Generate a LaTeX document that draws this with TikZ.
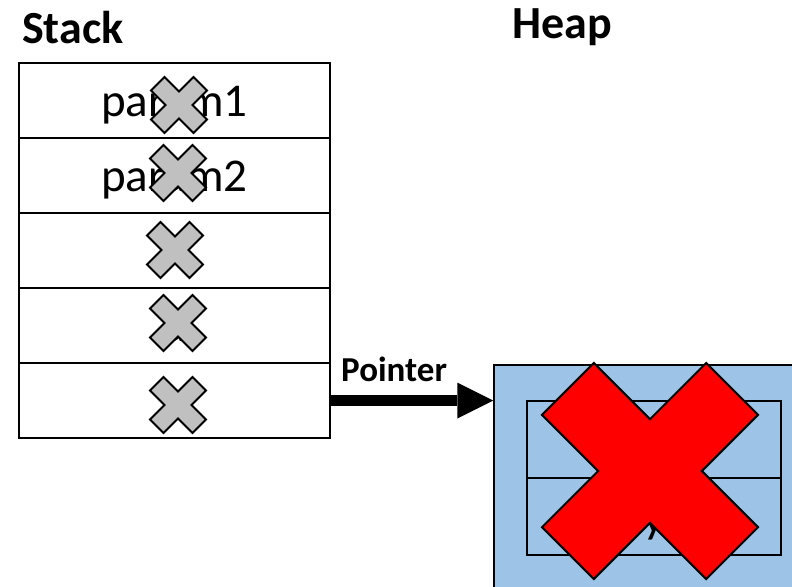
\documentclass[tikz,border=0pt]{standalone}
\usepackage{fontspec}
\setmainfont{Carlito}
\usetikzlibrary{arrows.meta}
\definecolor{crossgray}{HTML}{C0C0C0}
\definecolor{heapblue}{HTML}{9DC3E6}
\definecolor{xred}{HTML}{FF0000}
\newcommand{\crossmark}[5]{% center x, center y, half size, fill, line width
  \pgfmathsetmacro{\cmn}{0.48*#3}%
  \pgfmathsetmacro{\cmc}{#3-\cmn}%
  \draw[line width=#5, fill=#4, line join=miter]
    (#1,#2-\cmn) -- (#1+\cmc,#2-#3) -- (#1+#3,#2-\cmc) -- (#1+\cmn,#2)
    -- (#1+#3,#2+\cmc) -- (#1+\cmc,#2+#3) -- (#1,#2+\cmn)
    -- (#1-\cmc,#2+#3) -- (#1-#3,#2+\cmc) -- (#1-\cmn,#2)
    -- (#1-#3,#2-\cmc) -- (#1-\cmc,#2-#3) -- cycle;}
\begin{document}
\begin{tikzpicture}[x=1pt,y=-1pt,
  cell/.style={draw, line width=2pt, minimum width=311pt, minimum height=75pt,
    inner sep=0pt, font=\fontsize{47}{50}\selectfont, text height=35pt, text depth=4pt},
  hcell/.style={draw, line width=2pt, minimum width=254pt, minimum height=77pt,
    inner sep=0pt, font=\fontsize{47}{50}\selectfont, text height=35pt, text depth=4pt},
  title/.style={font=\fontsize{46}{50}\selectfont\bfseries, anchor=base west, inner sep=0pt},
  lbl/.style={font=\fontsize{35}{40}\selectfont\bfseries, anchor=base west, inner sep=0pt}]
\useasboundingbox (0,0) rectangle (792,586);
\clip (0,0) rectangle (792,586);
% titles
\node[title] (stacktitle) at (22,44) {Stack};
\node[title] (heaptitle) at (512,39) {Heap};
% stack cells
\node[cell] (s1) at (174.5,100.5) {param1};
\node[cell] (s2) at (174.5,175.5) {param2};
\node[cell] (s3) at (174.5,250.5) {};
\node[cell] (s4) at (174.5,325.5) {a};
\node[cell] (s5) at (174.5,400.5) {};
% gray crosses
\crossmark{179}{105}{28}{crossgray}{2pt}
\crossmark{178}{173}{28}{crossgray}{2pt}
\crossmark{175}{250}{28}{crossgray}{2pt}
\crossmark{178}{323}{28}{crossgray}{2pt}
\crossmark{178}{405}{28}{crossgray}{2pt}
% heap (extends past the right and bottom edges)
\node[draw, line width=1.5pt, fill=heapblue, minimum width=320pt, minimum height=240pt,
  inner sep=0pt] (heap) at (654,485) {};
\node[hcell] (h1) at (654,439.5) {};
\node[hcell] (h2) at (654,516.5) {y};
% red cross
\crossmark{650}{471}{108}{xred}{2pt}
% pointer arrow
\draw[line width=11pt, -{Triangle[length=36pt,width=36pt,line width=0pt]}]
  (s5.east) -- (s5.east -| heap.west);
\node[lbl] (ptr) at (341,381) {Pointer};
\end{tikzpicture}
\end{document}
